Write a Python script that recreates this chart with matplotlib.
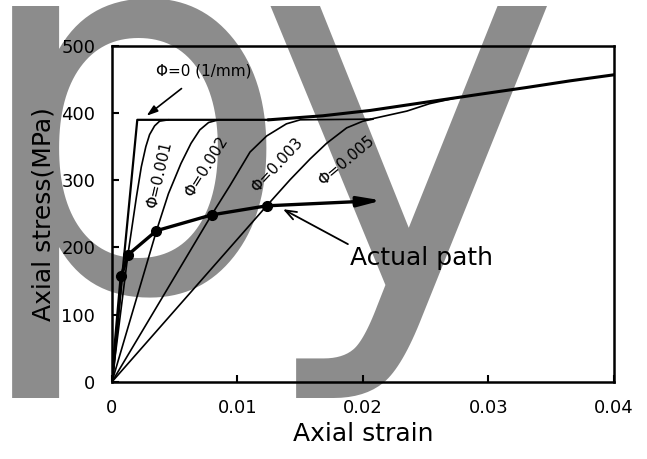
import numpy as np
import matplotlib
matplotlib.use("Agg")
import matplotlib.pyplot as plt

# -------------------------------
# Data (strain, stress in MPa)
# -------------------------------
phi0_strain = [0, 0.00202, 0.0125]
phi0_stress = [0, 390, 390]

# strain-hardening branch shared by the curves
hard_strain = [0.0125, 0.0168, 0.0206, 0.0253, 0.0293, 0.0330, 0.0365, 0.0400]
hard_stress = [390, 396, 404, 417, 428, 438, 448, 457]

phi001_strain = [0, 0.00127, 0.0015, 0.00195, 0.00234, 0.0027, 0.0030, 0.0034, 0.0038, 0.0045]
phi001_stress = [0, 189, 218, 275, 320, 350, 368, 381, 388, 390]

phi002_strain = [0, 0.00355, 0.0045, 0.0055, 0.0063, 0.0070, 0.0077, 0.0085]
phi002_stress = [0, 225, 280, 325, 355, 375, 386, 390]

phi003_strain = [0, 0.00794, 0.0094, 0.0110, 0.01233, 0.0139, 0.0150, 0.0206]
phi003_stress = [0, 248.5, 292, 342, 366, 384, 390, 391]

phi005_strain = [0, 0.01233, 0.0142, 0.0158, 0.0171, 0.0187, 0.0200, 0.0208]
phi005_stress = [0, 262, 301, 332, 355, 378, 388, 391]

# lower branch after the plateau, joining the hardening line
lower_strain = [0.0206, 0.0235, 0.0253, 0.0275]
lower_stress = [391, 403, 414, 423]

path_strain = [0, 0.00074, 0.00127, 0.00355, 0.00794, 0.01233]
path_stress = [0, 157, 189, 225, 248.5, 262]
path_end = (0.0215, 270)

phi_labels = ["Φ=0.001", "Φ=0.002", "Φ=0.003", "Φ=0.005"]
label_pos = [(0.00377, 308), (0.00754, 320), (0.01312, 323), (0.0187, 329)]
label_rot = [77, 58, 47, 40]

# -------------------------------
# Figure
# -------------------------------
fig = plt.figure(figsize=(6.47, 4.59), dpi=100)
fig.patch.set_facecolor("white")
ax = fig.add_axes([0.173, 0.168, 0.776, 0.732])
ax.set_zorder(1)
ax.patch.set_alpha(0)

# watermark behind the plot
wm = dict(fontsize=374, color="#8c8c8c", family="DejaVu Sans",
          zorder=0.5, ha="left", va="baseline")
fig.text(-35 / 647, 1 - 290 / 459, "p", **wm)
fig.text(255 / 647, 1 - 290 / 459, "y", **wm)

lw = 1.2
ax.plot(phi0_strain, phi0_stress, color="black", lw=1.6)
ax.plot(hard_strain, hard_stress, color="black", lw=2.2)
for xs, ys in [(phi001_strain, phi001_stress), (phi002_strain, phi002_stress),
               (phi003_strain, phi003_stress), (phi005_strain, phi005_stress)]:
    ax.plot(xs, ys, color="black", lw=lw)
ax.plot(lower_strain, lower_stress, color="black", lw=lw)

# actual path
ax.plot(path_strain, path_stress, color="black", lw=2.4)
ax.plot(path_strain[1:], path_stress[1:], "o", color="black", ms=7)
ax.annotate("", xy=path_end, xytext=(path_strain[-1], path_stress[-1]),
            arrowprops=dict(arrowstyle="-|>,head_length=1.4,head_width=0.3",
                            color="black", lw=2.4, shrinkA=0, shrinkB=0))

for txt, (x, y), r in zip(phi_labels, label_pos, label_rot):
    ax.text(x, y, txt, rotation=r, fontsize=11, ha="center", va="center")

ax.annotate("Φ=0 (1/mm)", xy=(0.00276, 396), xytext=(0.00729, 462),
            fontsize=11, ha="center", va="center",
            arrowprops=dict(arrowstyle="-|>,head_length=0.6,head_width=0.2",
                            color="black", lw=1.2, shrinkA=8, shrinkB=0))

ax.text(0.0190, 184, "Actual path", fontsize=18, ha="left", va="center")
ax.annotate("", xy=(0.01363, 257), xytext=(0.01880, 205),
            arrowprops=dict(arrowstyle="->,head_length=0.8,head_width=0.3",
                            color="black", lw=1.3, shrinkA=0, shrinkB=0))

ax.set_xlim(0, 0.04)
ax.set_ylim(0, 500)
ax.set_xticks([0, 0.01, 0.02, 0.03, 0.04])
ax.set_xticklabels(["0", "0.01", "0.02", "0.03", "0.04"])
ax.set_yticks([0, 100, 200, 300, 400, 500])
ax.tick_params(direction="in", length=5, width=1.5, labelsize=13, pad=12)
for s in ax.spines.values():
    s.set_linewidth(1.8)

ax.set_xlabel("Axial strain", fontsize=18, labelpad=4)
ax.set_ylabel("Axial stress(MPa)", fontsize=18, labelpad=4)

fig.savefig("out.png", dpi=100)
